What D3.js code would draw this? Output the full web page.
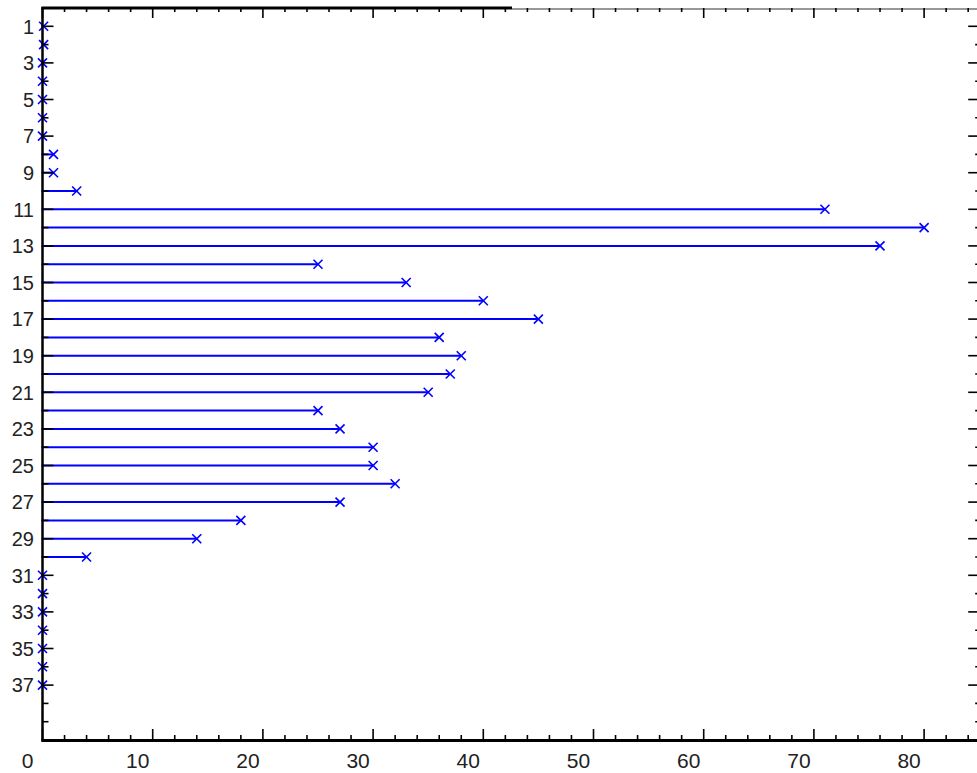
<!DOCTYPE html>
<html>
<head>
<meta charset="utf-8">
<script src="https://cdn.jsdelivr.net/npm/d3@7"></script>
<style>
html,body{margin:0;padding:0;background:#fff;}
svg{display:block;}
</style>
</head>
<body>
<svg id="chart" width="977" height="773"></svg>
<script>
// Data
const categories = [1,2,3,4,5,6,7,8,9,10,11,12,13,14,15,16,17,18,19,20,21,22,23,24,25,26,27,28,29,30,31,32,33,34,35,36,37];
const values = [0.1,0.1,0,0,0,0,0,1,1,3.1,71,80,76,25,33,40,45,36,38,37,35,25,27,30,30,32,27,18,14,4,0,0,0,0,0,0,0];
const yTickValues = [1,2,3,4,5,6,7,8,9,10,11,12,13,14,15,16,17,18,19,20,21,22,23,24,25,26,27,28,29,30,31,32,33,34,35,36,37,38,39];
const yTickLabels = ["1","","3","","5","","7","","9","","11","","13","","15","","17","","19","","21","","23","","25","","27","","29","","31","","33","","35","","37","",""];
const xMinorTicks = [0,2,4,6,8,10,12,14,16,18,20,22,24,26,28,30,32,34,36,38,40,42,44,46,48,50,52,54,56,58,60,62,64,66,68,70,72,74,76,78,80,82,84];
const xTickLabels = ["0","10","20","30","40","50","60","70","80"];

const svg = d3.select("#chart");
const x = d3.scaleLinear().domain([0, 85]).range([42.5, 979.2]);
const y = d3.scaleLinear().domain([0, 40]).range([8, 740]);

const blue = "#0000ff";

// Stems
svg.append("g").selectAll("line").data(categories).join("line")
  .attr("x1", x(0) - 1).attr("x2", (d,i) => x(values[i]))
  .attr("y1", d => y(d)).attr("y2", d => y(d))
  .attr("stroke", blue).attr("stroke-width", 2);

// Markers
const ms = 4.5;
const mk = svg.append("g").selectAll("g").data(categories).join("g")
  .attr("transform", (d,i) => `translate(${x(values[i])},${y(d)})`);
mk.append("line").attr("x1",-ms).attr("y1",-ms).attr("x2",ms).attr("y2",ms).attr("stroke",blue).attr("stroke-width",1.6);
mk.append("line").attr("x1",-ms).attr("y1",ms).attr("x2",ms).attr("y2",-ms).attr("stroke",blue).attr("stroke-width",1.6);

// Axes lines
const axisG = svg.append("g").attr("stroke", "#000");
// left
axisG.append("line").attr("x1", x(0)).attr("x2", x(0)).attr("y1", y(0)-1).attr("y2", y(40)+1.5).attr("stroke-width", 2.5);
// bottom
axisG.append("line").attr("x1", x(0)-1).attr("x2", 977).attr("y1", y(40)+0.5).attr("y2", y(40)+0.5).attr("stroke-width", 3);
// top: thick part then thin part
axisG.append("line").attr("x1", x(0)-1).attr("x2", 512).attr("y1", y(0)).attr("y2", y(0)).attr("stroke-width", 3);
axisG.append("line").attr("x1", 512).attr("x2", 977).attr("y1", y(0)+1).attr("y2", y(0)+1).attr("stroke-width", 1.2).attr("stroke", "#333");
// right
axisG.append("line").attr("x1", x(85)).attr("x2", x(85)).attr("y1", y(0)).attr("y2", y(40)).attr("stroke-width", 1.5);

// Top and bottom ticks (inward)
const tickG = svg.append("g").attr("stroke", "#000").attr("stroke-width", 1.6);
tickG.selectAll("line.tt").data(xMinorTicks).join("line").attr("class","tt")
  .attr("x1", d => x(d)).attr("x2", d => x(d))
  .attr("y1", y(0)).attr("y2", d => y(0) + (d % 10 === 0 ? 10 : 4));
tickG.selectAll("line.bt").data(xMinorTicks).join("line").attr("class","bt")
  .attr("x1", d => x(d)).attr("x2", d => x(d))
  .attr("y1", y(40)).attr("y2", d => y(40) - (d % 10 === 0 ? 11 : 5));

// Left and right ticks
tickG.selectAll("line.lt").data(yTickValues).join("line").attr("class","lt")
  .attr("y1", d => y(d)).attr("y2", d => y(d))
  .attr("x1", x(0)).attr("x2", (d,i) => x(0) + (yTickLabels[i] ? 11 : 6));
tickG.selectAll("line.rt").data(yTickValues).join("line").attr("class","rt")
  .attr("y1", d => y(d)).attr("y2", d => y(d))
  .attr("x1", x(85)).attr("x2", (d,i) => x(85) - (yTickLabels[i] ? 11 : 4));

// Y labels
svg.append("g").selectAll("text").data(yTickValues).join("text")
  .attr("x", 34).attr("y", d => y(d))
  .attr("dy", "0.36em")
  .attr("text-anchor", "end")
  .attr("font-family", "Liberation Sans, Arial, sans-serif")
  .attr("font-size", 20)
  .attr("fill", "#222")
  .text((d,i) => yTickLabels[i]);

// X labels
svg.append("g").selectAll("text").data(xTickLabels).join("text")
  .attr("x", d => x(+d) - 15).attr("y", 767.5)
  .attr("text-anchor", "middle")
  .attr("font-family", "Liberation Sans, Arial, sans-serif")
  .attr("font-size", 21)
  .attr("fill", "#222")
  .text(d => d);
</script>
</body>
</html>
